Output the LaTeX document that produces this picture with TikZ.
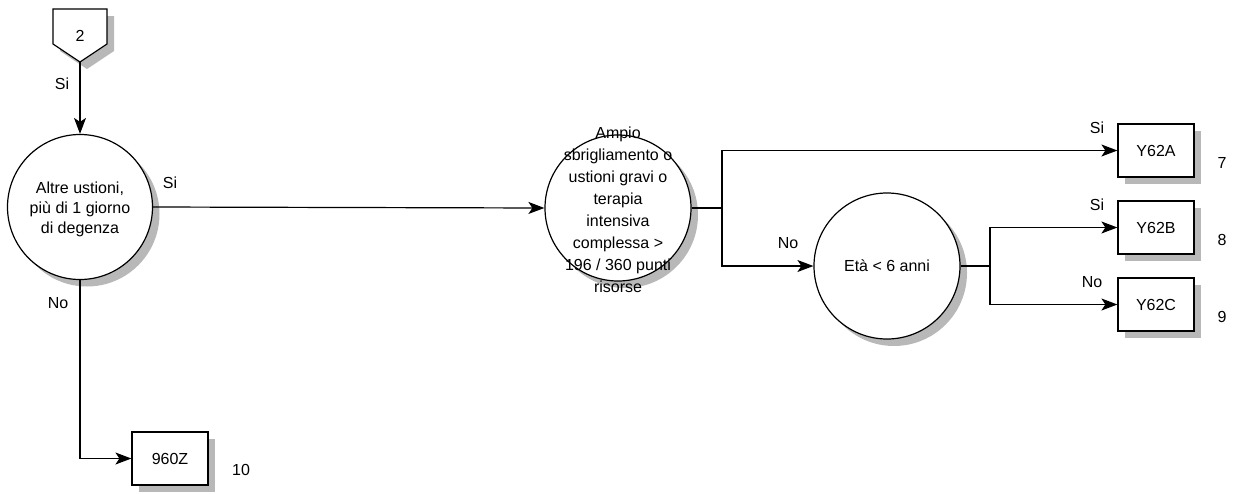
\documentclass[tikz,border=0pt]{standalone}
\usepackage{fontspec}
\setmainfont{Liberation Sans}
\usetikzlibrary{arrows.meta}
\begin{document}
\begin{tikzpicture}[x=1pt,y=-1pt,
  every node/.style={font=\fontsize{16}{20}\selectfont, inner sep=0pt},
  shadowfill/.style={fill=black!28},
  decis/.style={circle, draw, line width=1.2pt, fill=white, minimum size=146pt},
  leaf/.style={rectangle, draw, line width=1.2pt, fill=white, minimum width=76pt, minimum height=53pt},
  conn/.style={line width=1.2pt},
  arr/.style={line width=1.2pt, -{Stealth[length=16pt,width=12pt,inset=4pt]}},
  lbl/.style={font=\fontsize{16}{20}\selectfont}
]
\useasboundingbox (0,0) rectangle (1239,493);
% shadows
\fill[shadowfill] (60,16) -- (114,16) -- (114,51) -- (87,69) -- (60,51) -- cycle;
\fill[shadowfill] (87,214) circle[radius=72.5pt];
\fill[shadowfill] (625,215) circle[radius=73pt];
\fill[shadowfill] (894,273) circle[radius=73pt];
\fill[shadowfill] (1125,131) rectangle (1201,184);
\fill[shadowfill] (1125,208) rectangle (1201,261);
\fill[shadowfill] (1125,285) rectangle (1201,338);
\fill[shadowfill] (139,439) rectangle (215,492);
% off-page connector
\draw[fill=white, line width=1.2pt] (53,9) -- (107,9) -- (107,44) -- (80,62) -- (53,44) -- cycle;
\node (p2) at (80,36) {2};
\coordinate (ptip) at (80,62);
% decisions
\node[decis, minimum size=145pt] (c1) at (80,207) {};
\node[align=center] (t1) at (80,209) {Altre ustioni,\\più di 1 giorno\\di degenza};
\node[decis] (c2) at (618,208) {};
\node[align=center, font=\fontsize{16}{22}\selectfont] (t2) at (618,210) {Ampio\\sbrigliamento o\\ustioni gravi o\\terapia\\intensiva\\complessa >\\196 / 360 punti\\risorse};
\node[decis] (c3) at (887,266) {};
\node (t3) at (887,266) {Età < 6 anni};
% leaves
\node[leaf] (y62a) at (1156,150.5) {Y62A};
\node[leaf] (y62b) at (1156,227.5) {Y62B};
\node[leaf] (y62c) at (1156,304.5) {Y62C};
\node[leaf] (z960) at (170,458.5) {960Z};
% forks
\coordinate (f1) at (722,208);
\coordinate (f2) at (990,266);
% connectors
\draw[arr] (ptip) -- (c1.north);
\draw[arr] (c1.east) -- (c2.west);
\draw[conn] (c2.east) -- (f1);
\draw[arr] (f1) |- (y62a.west);
\draw[arr] (f1) |- (c3.west);
\draw[conn] (c3.east) -- (f2);
\draw[arr] (f2) |- (y62b.west);
\draw[arr] (f2) |- (y62c.west);
\draw[arr] (c1.south) |- (z960.west);
% labels
\node[lbl] (l1) at (62,84) {Si};
\node[lbl] (l2) at (170,183) {Si};
\node[lbl] (l3) at (58,303) {No};
\node[lbl] (l4) at (788,243) {No};
\node[lbl] (l5) at (1097,128) {Si};
\node[lbl] (l6) at (1097,205) {Si};
\node[lbl] (l7) at (1092,282) {No};
\node[lbl] (n7) at (1222,163) {7};
\node[lbl] (n8) at (1222,240) {8};
\node[lbl] (n9) at (1222,317) {9};
\node[lbl] (n10) at (241,470) {10};
\end{tikzpicture}
\end{document}
